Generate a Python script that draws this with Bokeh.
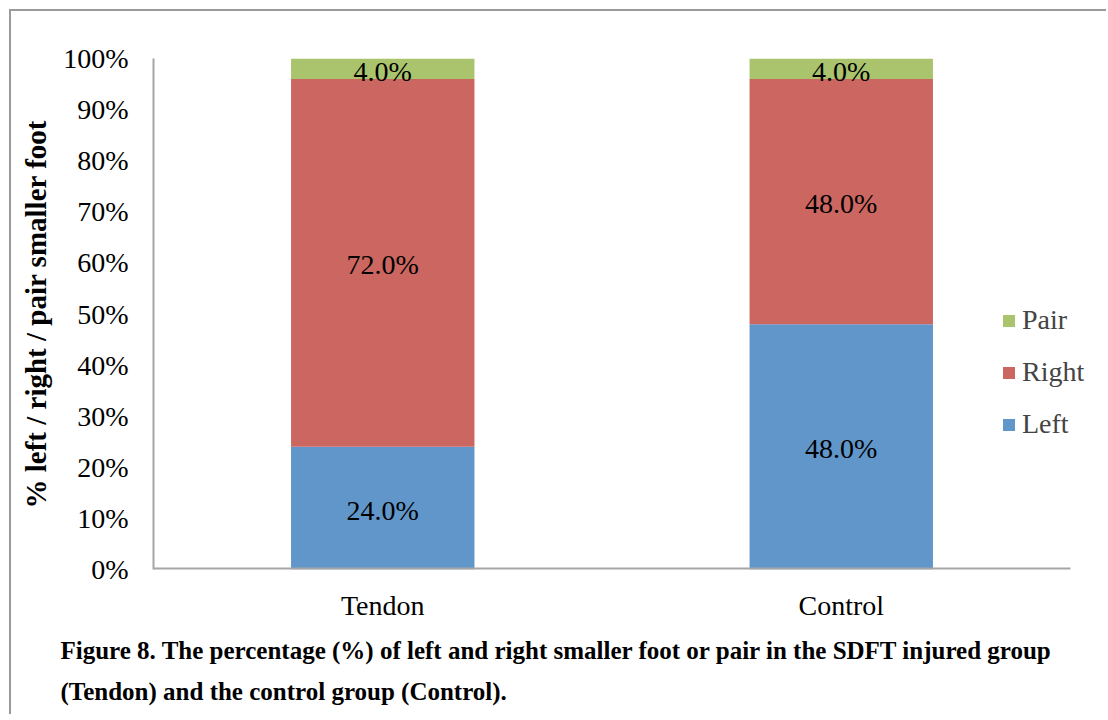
from bokeh.plotting import figure
from bokeh.models import (Range1d, FixedTicker, NumeralTickFormatter,
                          Legend, LegendItem, Title, ColumnDataSource)
from bokeh.core.properties import value
from bokeh.embed import file_html
from bokeh.resources import INLINE

groups = ["Tendon", "Control"]
series = ["Left", "Right", "Pair"]
left_vals = [0.24, 0.48]
right_vals = [0.72, 0.48]
pair_vals = [0.04, 0.04]
colors = ["#6096C9", "#CC6661", "#AAC46E"]
y_ticks = [0, 0.1, 0.2, 0.3, 0.4, 0.5, 0.6, 0.7, 0.8, 0.9, 1.0]

FONT = "Liberation Serif"
FS = "28px"

xpos = [i + 0.5 for i in range(len(groups))]
src = ColumnDataSource(dict(x=xpos, Left=left_vals, Right=right_vals, Pair=pair_vals))

p = figure(x_range=Range1d(0, len(groups) + 0.0545), y_range=Range1d(0, 1),
           width=1097, height=705, output_backend="svg", toolbar_location=None,
           min_border_left=142, min_border_right=13, min_border_top=47, min_border_bottom=147)
p.styles = {"border-left": "2px solid #9a9a9a", "border-top": "2px solid #9a9a9a",
            "margin-left": "9px", "margin-top": "9px"}
p.outline_line_color = None
p.xgrid.visible = False
p.ygrid.visible = False

rs = p.vbar_stack(series, x="x", width=0.4, source=src, color=colors, line_color=None)

# x-axis baseline (ends at the last category boundary)
p.segment(x0=[0], y0=[0], x1=[len(groups)], y1=[0], line_color="#a6a6a6", line_width=4)

# data labels
lx, ly, lt = [], [], []
tx, ty, tt = [], [], []
for i in range(len(groups)):
    base = 0
    for vals in (left_vals, right_vals):
        v = vals[i]
        lx.append(xpos[i]); ly.append(base + v / 2); lt.append(f"{v*100:.1f}%")
        base += v
    v = pair_vals[i]
    tx.append(xpos[i]); ty.append(base + v / 2); tt.append(f"{v*100:.1f}%")
p.text(x=lx, y=ly, text=lt, text_align="center", text_baseline="middle", y_offset=2,
       text_font=value(FONT), text_font_size=FS, text_color="black")
p.text(x=tx, y=ty, text=tt, text_align="center", text_baseline="middle", y_offset=3,
       text_font=value(FONT), text_font_size=FS, text_color="black")

# axes
ya = p.yaxis[0]
ya.ticker = FixedTicker(ticks=y_ticks)
ya.formatter = NumeralTickFormatter(format="0%")
ya.major_tick_line_color = None
ya.minor_tick_line_color = None
ya.major_label_standoff = 19
ya.major_label_text_font = FONT
ya.major_label_text_font_size = FS
ya.major_label_text_color = "black"
ya.axis_line_color = "#a6a6a6"
ya.axis_line_width = 2
ya.axis_label = "% left / right / pair smaller foot"
ya.axis_label_text_font = FONT
ya.axis_label_text_font_style = "bold"
ya.axis_label_text_font_size = "29px"
ya.axis_label_text_color = "black"
ya.axis_label_standoff = 8

xa = p.xaxis[0]
xa.ticker = FixedTicker(ticks=xpos)
xa.major_label_overrides = {x: g for x, g in zip(xpos, groups)}
xa.major_tick_line_color = None
xa.minor_tick_line_color = None
xa.major_label_standoff = 14
xa.major_label_text_font = FONT
xa.major_label_text_font_size = FS
xa.major_label_text_color = "black"
xa.axis_line_color = None

# legend
items = [LegendItem(label=s, renderers=[r]) for s, r in zip(series, rs)][::-1]
legend = Legend(items=items, location=(848, 129), orientation="vertical",
                label_text_font=FONT, label_text_font_size=FS,
                glyph_width=15, glyph_height=15, label_standoff=6, spacing=20,
                padding=0, margin=0, border_line_color=None, background_fill_alpha=0)
p.add_layout(legend, "center")

# caption
cap1 = "Figure 8. The percentage (%) of left and right smaller foot or pair in the SDFT injured group"
cap2 = "(Tendon) and the control group (Control)."
for txt, so in ((cap1, 23), (cap2, 0)):
    p.add_layout(Title(text=txt, align="left", offset=-93, standoff=so,
                       text_font=FONT, text_font_style="bold", text_font_size="25px",
                       text_color="black"), "below")

open("out.html", "w").write(file_html(p, INLINE))
